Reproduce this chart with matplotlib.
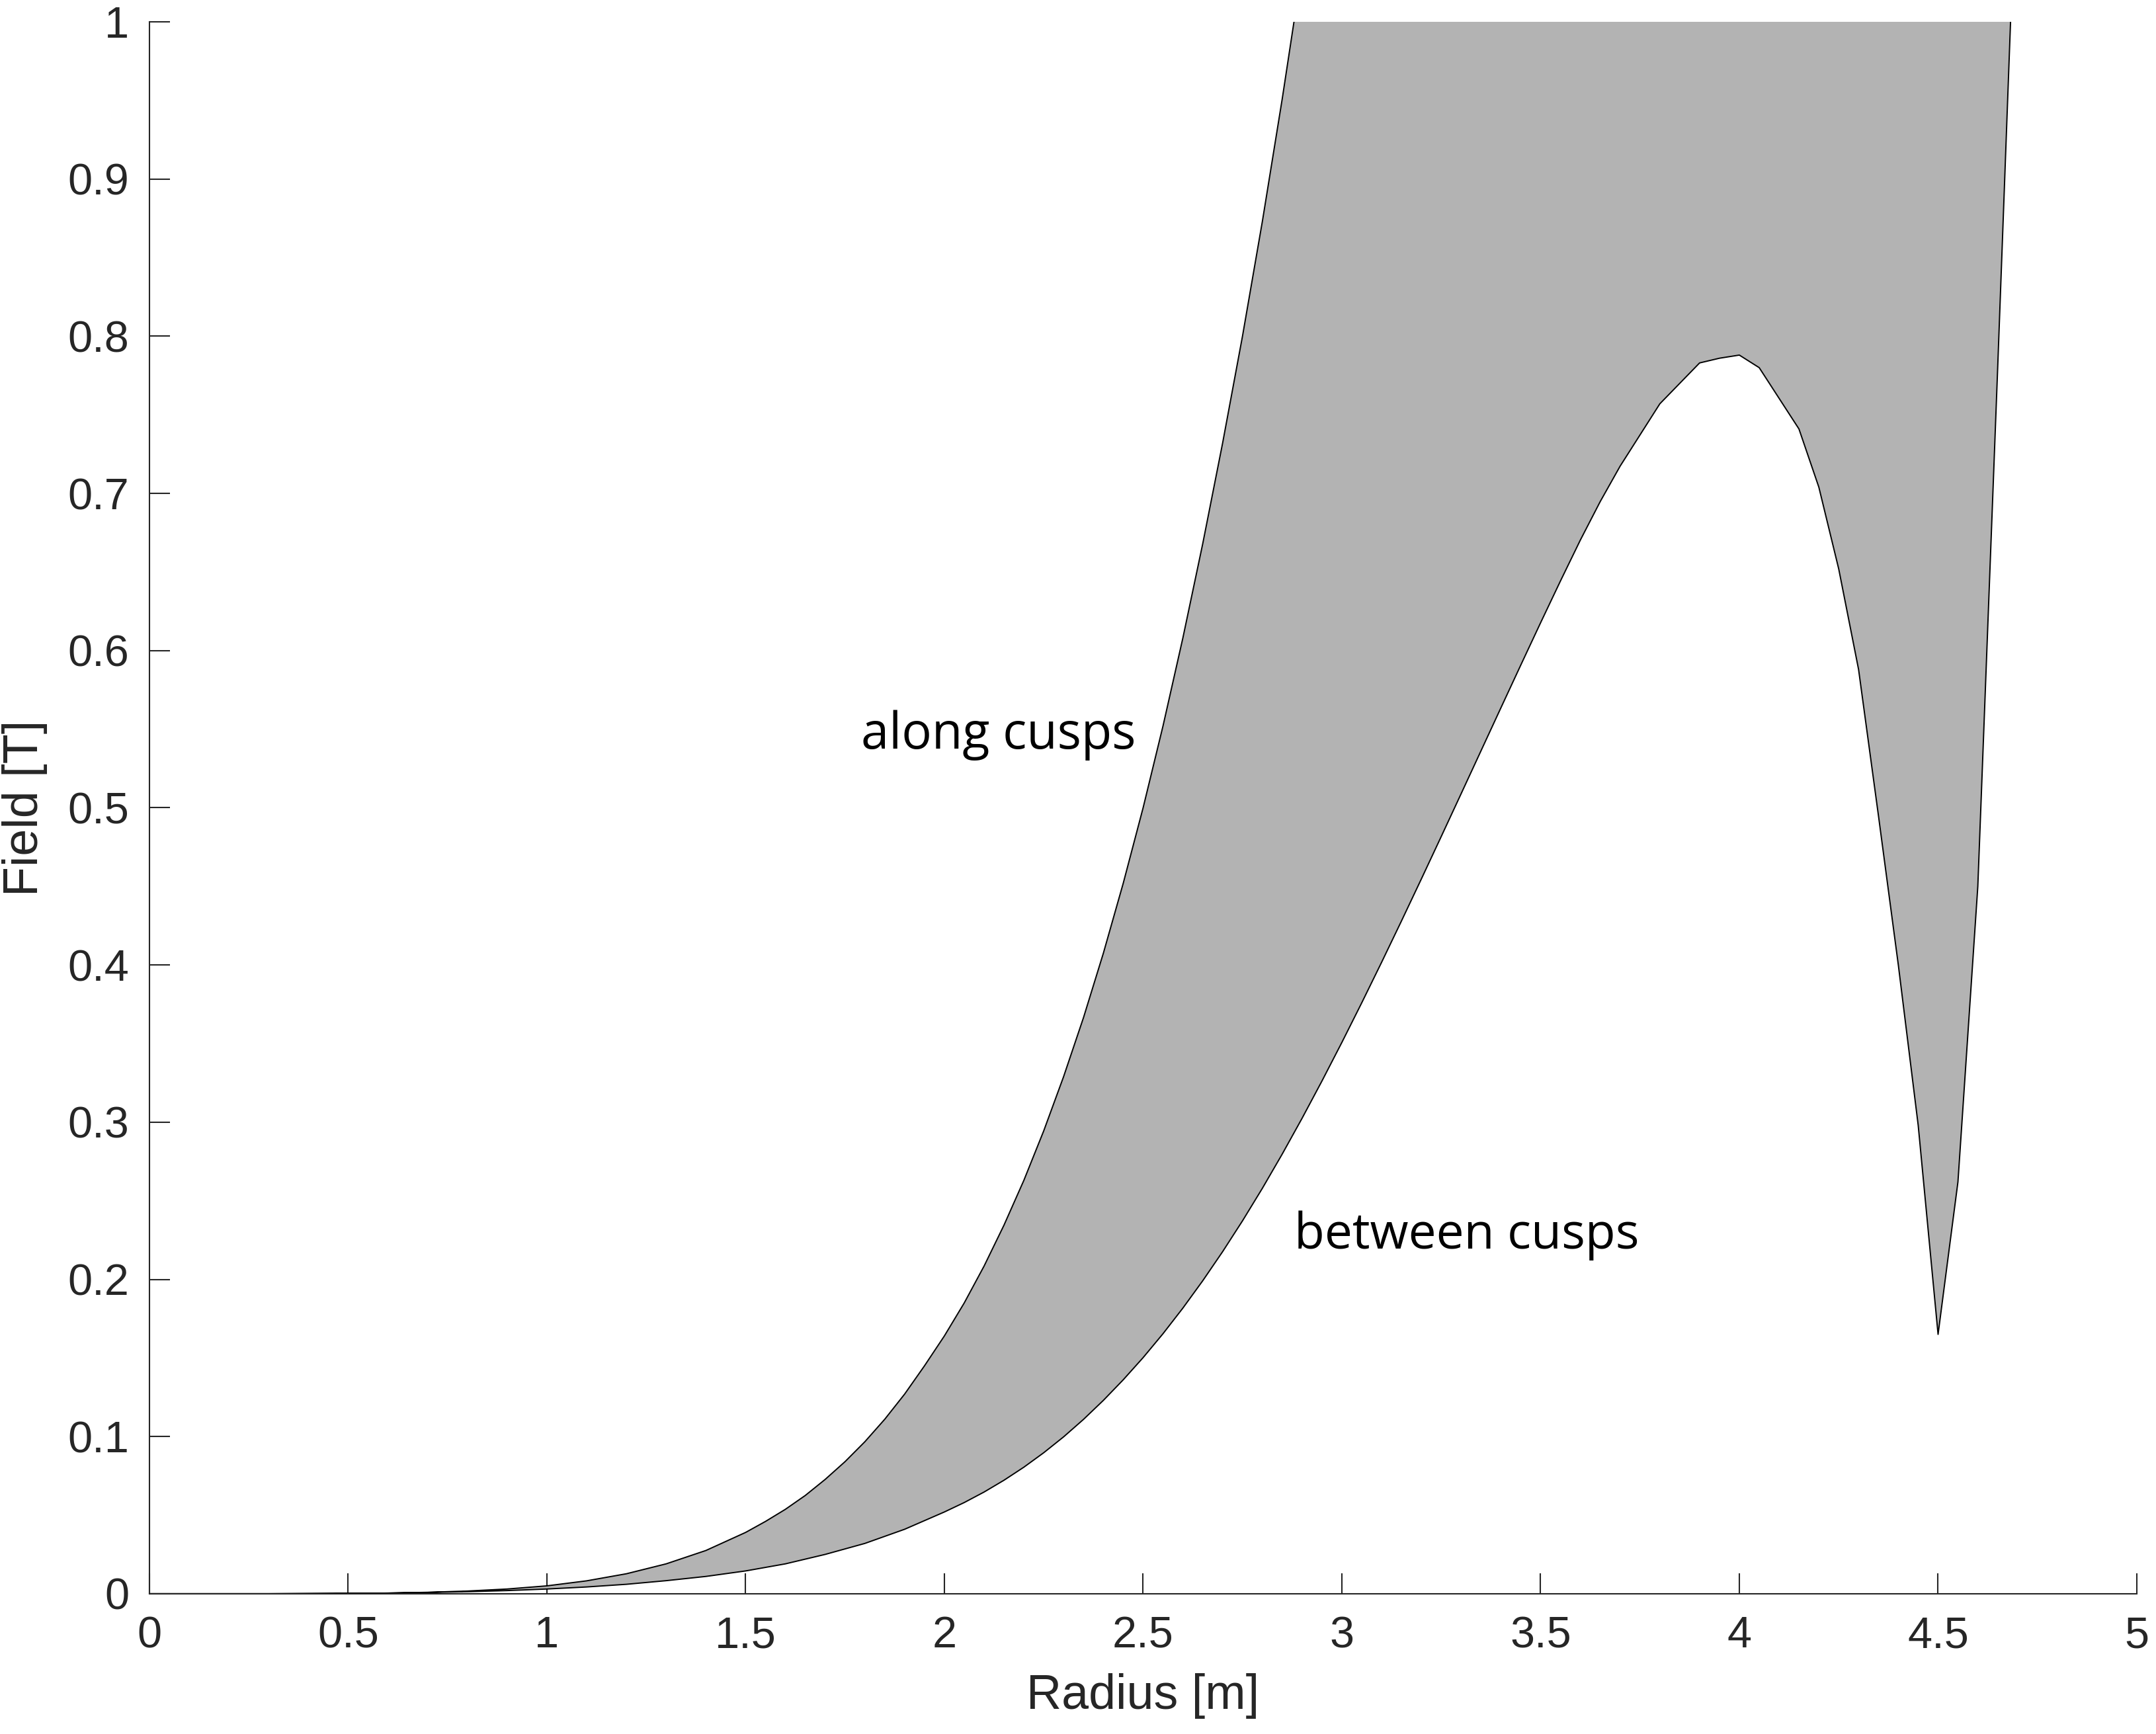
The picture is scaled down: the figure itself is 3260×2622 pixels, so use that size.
import numpy as np
import matplotlib
matplotlib.use("Agg")
import matplotlib.pyplot as plt

# Field along cusps (upper boundary)
r_cusp = [0.0, 0.1, 0.2, 0.3, 0.4, 0.5, 0.6, 0.7, 0.8, 0.9, 1.0, 1.1, 1.2, 1.3, 1.4,
          1.5, 1.55, 1.6, 1.65, 1.7, 1.75, 1.8, 1.85, 1.9, 1.95,
          2.0, 2.05, 2.1, 2.15, 2.2, 2.25, 2.3, 2.35, 2.4, 2.45,
          2.5, 2.55, 2.6, 2.65, 2.7, 2.75, 2.8, 2.85, 2.9, 2.95, 3.0]
b_cusp = [0.0, 0.0, 0.0, 0.0, 0.0001, 0.0002, 0.0004, 0.0009, 0.0017, 0.003, 0.005,
          0.0082, 0.0127, 0.019, 0.0275,
          0.039, 0.046, 0.0537, 0.0625, 0.0727, 0.084, 0.0967, 0.111, 0.127, 0.145,
          0.164, 0.185, 0.2085, 0.2345, 0.263, 0.2945, 0.329, 0.3665, 0.4075, 0.452,
          0.500, 0.552, 0.608, 0.668, 0.732, 0.800, 0.873, 0.951, 1.034, 1.12, 1.21]

# Field between cusps (lower boundary)
r_betw = [0.0, 0.1, 0.2, 0.3, 0.4, 0.5, 0.6, 0.7, 0.8, 0.9, 1.0, 1.1, 1.2, 1.3, 1.4,
          1.5, 1.6, 1.7, 1.8, 1.9,
          2.0, 2.05, 2.1, 2.15, 2.2, 2.25, 2.3, 2.35, 2.4, 2.45,
          2.5, 2.55, 2.6, 2.65, 2.7, 2.75, 2.8, 2.85, 2.9, 2.95,
          3.0, 3.05, 3.1, 3.15, 3.2, 3.25, 3.3, 3.35, 3.4, 3.45,
          3.5, 3.55, 3.6, 3.65, 3.7, 3.8, 3.9, 3.95, 4.0, 4.05, 4.15,
          4.2, 4.25, 4.3, 4.35, 4.4, 4.45, 4.5, 4.55, 4.6, 4.65, 4.7]
b_betw = [0.0, 0.0, 0.0, 0.0, 0.0001, 0.0002, 0.0004, 0.0008, 0.0013, 0.002, 0.003,
          0.0043, 0.006, 0.0083, 0.011,
          0.0145, 0.019, 0.025, 0.032, 0.041,
          0.052, 0.058, 0.0647, 0.0722, 0.0805, 0.0897, 0.0998, 0.1109, 0.1230, 0.1361,
          0.1502, 0.1654, 0.1817, 0.1991, 0.2176, 0.2372, 0.2579, 0.2797, 0.3025, 0.3262,
          0.3507, 0.3759, 0.4017, 0.4280, 0.4547, 0.4817, 0.5089, 0.5362, 0.5635, 0.5907,
          0.6177, 0.6443, 0.6703, 0.6948, 0.7173, 0.757, 0.783, 0.786, 0.788, 0.780, 0.741,
          0.704, 0.652, 0.588, 0.495, 0.400, 0.298, 0.165, 0.262, 0.45, 0.78, 1.12]

x_ticks = [0, 0.5, 1, 1.5, 2, 2.5, 3, 3.5, 4, 4.5, 5]
x_ticklabels = ["0", "0.5", "1", "1.5", "2", "2.5", "3", "3.5", "4", "4.5", "5"]
y_ticks = [0, 0.1, 0.2, 0.3, 0.4, 0.5, 0.6, 0.7, 0.8, 0.9, 1]
y_ticklabels = ["0", "0.1", "0.2", "0.3", "0.4", "0.5", "0.6", "0.7", "0.8", "0.9", "1"]

axc = "#262626"
fig = plt.figure(figsize=(32.6, 26.22), dpi=100)
ax = fig.add_axes([0.0693, 0.0809, 0.9218, 0.9065])

poly_x = np.concatenate([r_cusp, r_betw[::-1]])
poly_y = np.concatenate([b_cusp, b_betw[::-1]])
ax.fill(poly_x, poly_y, facecolor="#b3b3b3", edgecolor="black", linewidth=1.4,
        joinstyle="round", zorder=2)

ax.set_xlim(0, 5)
ax.set_ylim(0, 1)
ax.set_xticks(x_ticks)
ax.set_xticklabels(x_ticklabels)
ax.set_yticks(y_ticks)
ax.set_yticklabels(y_ticklabels)

for s in ["top", "right"]:
    ax.spines[s].set_visible(False)
for s in ["left", "bottom"]:
    ax.spines[s].set_color(axc)
    ax.spines[s].set_linewidth(1.5)
    ax.spines[s].set_zorder(3)

tickfont = "Liberation Sans"
ax.tick_params(direction="in", length=22, width=1.5, color=axc, labelcolor=axc,
               labelsize=48)
ax.tick_params(axis="x", pad=24)
ax.tick_params(axis="y", pad=22)
for lab in ax.get_xticklabels() + ax.get_yticklabels():
    lab.set_family(tickfont)

ax.set_xlabel("Radius [m]", fontsize=53, family=tickfont, color=axc, labelpad=18)
ax.set_ylabel("Field [T]", fontsize=53, family=tickfont, color=axc, labelpad=22)

ax.text(1.79, 0.546, "along cusps", fontsize=54.5, family="Open Sans", color="black",
        ha="left", va="center", zorder=4)
ax.text(2.88, 0.228, "between cusps", fontsize=54, family="Open Sans", color="black",
        ha="left", va="center", zorder=4)

fig.savefig("out.png", dpi=100, facecolor="white")
